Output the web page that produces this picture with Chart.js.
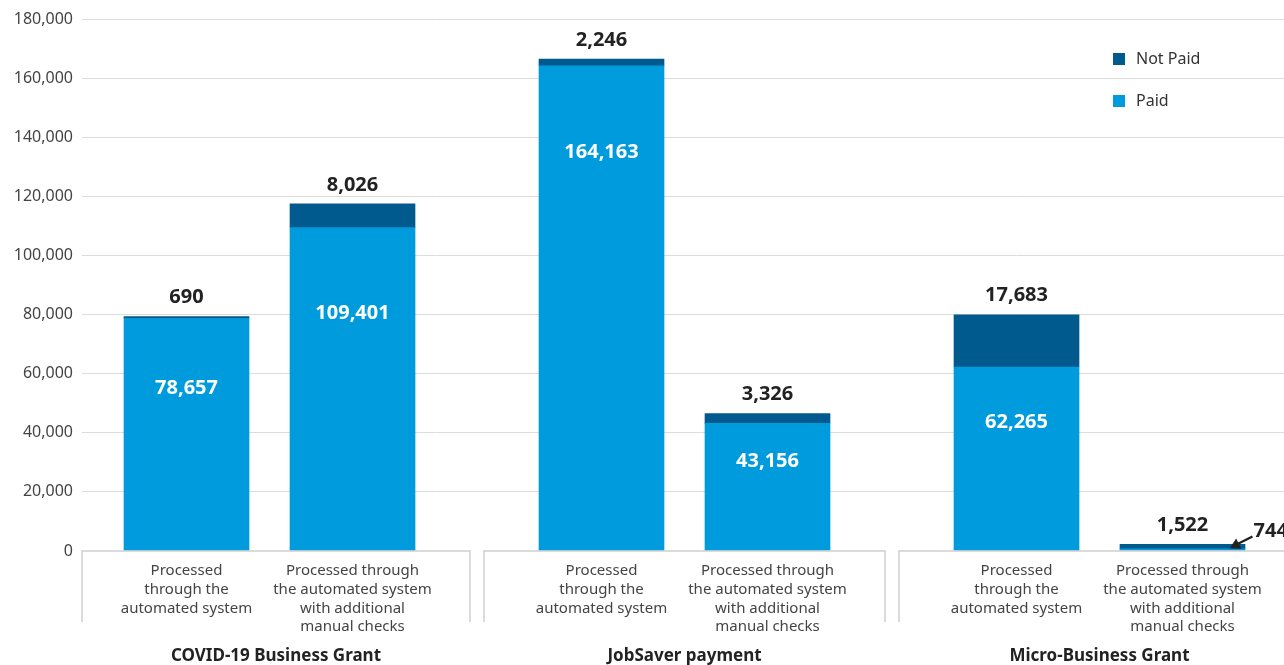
<!DOCTYPE html>
<html>
<head>
<meta charset="utf-8">
<script src="https://cdn.jsdelivr.net/npm/chart.js@4.4.1/dist/chart.umd.min.js"></script>
<style>
html, body { margin: 0; padding: 0; overflow: hidden; background: #fff; }
#contenedor { width: 1307px; height: 665px; }
</style>
</head>
<body>
<div id="contenedor"><canvas id="grafico" width="1307" height="665"></canvas></div>
<script>
// Datos
const grupos = ["COVID-19 Business Grant", "JobSaver payment", "Micro-Business Grant"];
const categorias = [
    ["Processed", "through the", "automated system"],
    ["Processed through", "the automated system", "with additional", "manual checks"],
    ["Processed", "through the", "automated system"],
    ["Processed through", "the automated system", "with additional", "manual checks"],
    ["Processed", "through the", "automated system"],
    ["Processed through", "the automated system", "with additional", "manual checks"]
];
const grupoDeBarra = [0, 0, 1, 1, 2, 2];
const pagado = [78657, 109401, 164163, 43156, 62265, 744];
const noPagado = [690, 8026, 2246, 3326, 17683, 1522];
const nombresSeries = ["Paid", "Not Paid"];

const colorPagado = "#009bdc";
const colorNoPagado = "#005a8d";
const largoTick = 63;
const fuente = "'Noto Sans', sans-serif";

// Ranuras: barras con huecos vacíos entre ellas y entre grupos
const etiquetas = [], datosPagado = [], datosNoPagado = [], barraDeRanura = [];
categorias.forEach((cat, i) => {
    if (i > 0) {
        const huecos = grupoDeBarra[i] !== grupoDeBarra[i - 1] ? 2 : 1;
        for (let h = 0; h < huecos; h++) {
            etiquetas.push("");
            datosPagado.push(null);
            datosNoPagado.push(null);
            barraDeRanura.push(-1);
        }
    }
    etiquetas.push(cat);
    datosPagado.push(pagado[i]);
    datosNoPagado.push(noPagado[i]);
    barraDeRanura.push(i);
});
etiquetas.push("");
datosPagado.push(null);
datosNoPagado.push(null);
barraDeRanura.push(-1);

const fmt = v => v.toLocaleString("en-US");

// Etiquetas de valores, corchetes de grupo y leyenda
const pluginExtras = {
    id: "extras",
    afterDatasetsDraw(chart) {
        const ctx = chart.ctx;
        const metaP = chart.getDatasetMeta(0);
        const metaN = chart.getDatasetMeta(1);
        ctx.save();
        ctx.font = "bold 20px " + fuente;
        ctx.textAlign = "center";
        ctx.textBaseline = "middle";
        barraDeRanura.forEach((b, s) => {
            if (b < 0) return;
            const barP = metaP.data[s];
            const barN = metaN.data[s];
            // valor no pagado arriba
            ctx.fillStyle = "#222";
            ctx.textAlign = "center";
            ctx.fillText(fmt(noPagado[b]), barN.x, barN.y - 19);
            // valor pagado
            const alto = barP.base - barP.y;
            if (alto > 25) {
                ctx.fillStyle = "#fff";
                ctx.fillText(fmt(pagado[b]), barP.x, barP.y + Math.min(alto * 0.3, 86));
            } else {
                const tx = barP.x + 71, ty = barP.base - 19;
                const ax = barP.x + 47, ay = barP.base - 2;
                ctx.fillStyle = "#222";
                ctx.textAlign = "left";
                ctx.fillText(fmt(pagado[b]), tx, ty);
                ctx.strokeStyle = "#222";
                ctx.lineWidth = 2.5;
                ctx.beginPath();
                ctx.moveTo(tx - 1, ty + 5);
                ctx.lineTo(ax + 5, ay - 3);
                ctx.stroke();
                const ang = Math.atan2(ay - (ty + 5), ax - (tx - 1));
                ctx.beginPath();
                ctx.moveTo(ax, ay);
                ctx.lineTo(ax - 12 * Math.cos(ang - 0.5), ay - 12 * Math.sin(ang - 0.5));
                ctx.lineTo(ax - 12 * Math.cos(ang + 0.5), ay - 12 * Math.sin(ang + 0.5));
                ctx.closePath();
                ctx.fill();
            }
        });

        // Corchetes de grupo y nombres
        const x = chart.scales.x;
        const base = chart.scales.y.getPixelForValue(0);
        const posBarra = categorias.map((c, i) => x.getPixelForValue(barraDeRanura.indexOf(i)));
        const limites = [];
        grupos.forEach((g, gi) => {
            const idx = grupoDeBarra.map((v, i) => v === gi ? i : -1).filter(i => i >= 0);
            const primero = posBarra[idx[0]], ultimo = posBarra[idx[idx.length - 1]];
            const izq = gi === 0 ? chart.chartArea.left - largoTick
                : (posBarra[idx[0] - 1] + primero) / 2 + 7;
            let der;
            if (gi < grupos.length - 1) {
                const sig = grupoDeBarra.indexOf(gi + 1);
                der = (ultimo + posBarra[sig]) / 2 - 7;
            } else {
                der = (primero + ultimo) - izq;
            }
            limites.push([izq, der]);
        });
        ctx.strokeStyle = "#cfcfcf";
        ctx.lineWidth = 1.5;
        limites.forEach(([izq, der], gi) => {
            ctx.beginPath();
            ctx.moveTo(izq, base + 71);
            ctx.lineTo(izq, base);
            ctx.lineTo(der, base);
            ctx.lineTo(der, base + 71);
            ctx.stroke();
            ctx.fillStyle = "#222";
            ctx.font = "bold 17px " + fuente;
            ctx.textAlign = "center";
            ctx.fillText(grupos[gi], (izq + der) / 2, base + 105);
        });

        // Leyenda
        const colores = [colorNoPagado, colorPagado];
        const nombres = [nombresSeries[1], nombresSeries[0]];
        ctx.font = "16px " + fuente;
        ctx.textAlign = "left";
        nombres.forEach((n, i) => {
            const ly = 59 + i * 42;
            const lx = chart.chartArea.right - 194;
            ctx.fillStyle = colores[i];
            ctx.fillRect(lx, ly - 6, 12, 12);
            ctx.fillStyle = "#333";
            ctx.fillText(n, lx + 23, ly);
        });
        ctx.restore();
    }
};

new Chart(document.getElementById("grafico"), {
    type: "bar",
    data: {
        labels: etiquetas,
        datasets: [
            {
                label: nombresSeries[0],
                data: datosPagado,
                backgroundColor: colorPagado,
                barThickness: 125,
                borderWidth: 0,
                clip: false
            },
            {
                label: nombresSeries[1],
                data: datosNoPagado,
                backgroundColor: colorNoPagado,
                barThickness: 125,
                borderWidth: 0,
                clip: false
            }
        ]
    },
    options: {
        responsive: false,
        animation: false,
        layout: { padding: { top: 19, right: 0, left: 0, bottom: 0 } },
        scales: {
            x: {
                stacked: true,
                grid: { display: false },
                border: { display: false },
                ticks: {
                    autoSkip: false,
                    maxRotation: 0,
                    minRotation: 0,
                    padding: 2,
                    color: "#444",
                    font: { family: "'Noto Sans', sans-serif", size: 15, lineHeight: 1.26 }
                },
                afterFit: scale => { scale.height = 114; }
            },
            y: {
                stacked: true,
                min: 0,
                max: 180000,
                border: { display: false },
                grid: {
                    color: c => c.tick && c.tick.value === 0 ? "rgba(0,0,0,0)" : "#dcdcdc",
                    lineWidth: 1,
                    tickLength: largoTick
                },
                ticks: {
                    stepSize: 20000,
                    padding: 9,
                    color: "#444",
                    font: { family: "'Noto Sans', sans-serif", size: 16 },
                    callback: v => fmt(v)
                },
                afterFit: scale => { scale.width = 145; }
            }
        },
        plugins: {
            legend: { display: false },
            tooltip: { enabled: false }
        }
    },
    plugins: [pluginExtras]
});
</script>
</body>
</html>
